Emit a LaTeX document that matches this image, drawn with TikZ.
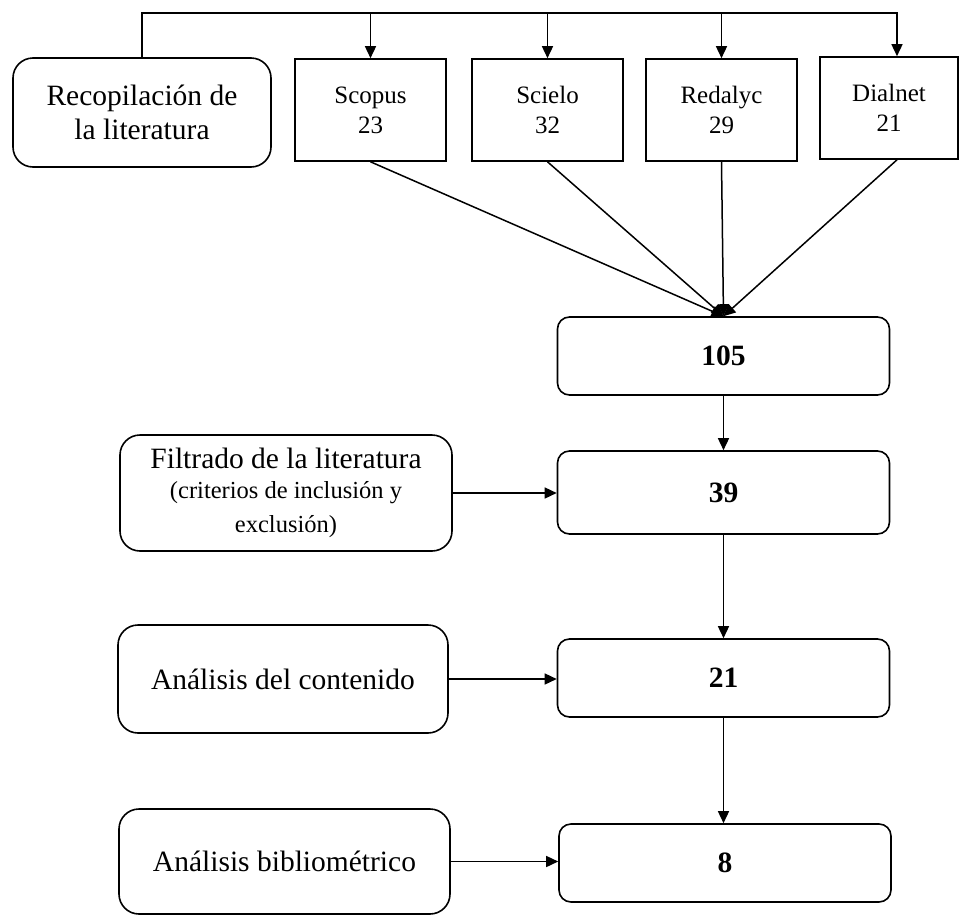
\documentclass[tikz,border=0pt]{standalone}
\usepackage{fontspec}
\setmainfont{Liberation Serif}
\usetikzlibrary{arrows.meta}
\tikzset{
  stage/.style={draw, line width=1.6pt, rounded corners=20pt, align=center,
    inner sep=0pt, minimum width=330pt, minimum height=108pt,
    font=\fontsize{29.5}{34}\selectfont},
  source/.style={draw, line width=1.6pt, align=center, inner sep=0pt,
    minimum width=151pt, minimum height=102pt,
    font=\fontsize{25}{30}\selectfont},
  count/.style={draw, line width=1.6pt, rounded corners=12pt, inner sep=0pt,
    minimum width=332pt, minimum height=78pt,
    font=\fontsize{29.5}{34}\selectfont\bfseries},
  flow/.style={line width=1.5pt, -{Triangle[length=12pt, width=11pt]}}
}
\newcommand{\smallline}{\fontsize{24.5}{31}\selectfont}

\begin{document}
\begin{tikzpicture}[x=1pt, y=-1pt]
  \useasboundingbox (0,0) rectangle (959,916);

  % Collection and the four databases
  \node[stage, minimum width=258pt, minimum height=109pt] (recop) at (142,112.5)
    {Recopilación de\\la literatura};
  \node[source] (scopus) at (370.5,110) {Scopus\\23};
  \node[source] (scielo) at (547.5,110) {Scielo\\32};
  \node[source] (redalyc) at (721.5,110) {Redalyc\\29};
  \node[source, minimum width=138pt] (dialnet) at (889,108) {Dialnet\\21};
  \coordinate (bus) at (0,13);

  % Counts
  \node[count] (n105) at (723.5,356) {105};
  \node[count, minimum height=83pt] (n39) at (723.5,492.5) {39};
  \node[count] (n21) at (723.5,678) {21};
  \node[count] (n8) at (725,863) {8};

  % Stages on the left
  \node[stage, minimum width=332pt, minimum height=116pt] (filtrado) at (286,493)
    {Filtrado de la literatura\\[-4pt]
     \smallline (criterios de inclusión y\\\smallline exclusión)};
  \node[stage] (contenido) at (283,679) {Análisis del contenido};
  \node[stage, minimum width=331pt, minimum height=105pt] (biblio) at (284.5,861.5)
    {Análisis bibliométrico};

  % Bus over the databases
  \draw[flow] (recop.north) |- ([xshift=8pt]dialnet.north |- bus)
    -- ([xshift=8pt]dialnet.north);
  \draw[flow] (scopus.north |- bus) -- (scopus.north);
  \draw[flow] (scielo.north |- bus) -- (scielo.north);
  \draw[flow] (redalyc.north |- bus) -- (redalyc.north);

  % Databases into the total
  \draw[flow] (scopus.south) -- (n105.north);
  \draw[flow] (scielo.south) -- (n105.north);
  \draw[flow] (redalyc.south) -- (n105.north);
  \draw[flow] ([xshift=8pt]dialnet.south) -- (n105.north);

  % Down the chain
  \draw[flow] (n105.south) -- (n39.north);
  \draw[flow] (n39.south) -- (n21.north);
  \draw[flow] (n21.south) -- (n21.south |- n8.north);

  % Stages into the counts
  \draw[flow] (filtrado.east) -- (filtrado.east -| n39.west);
  \draw[flow] (contenido.east) -- (contenido.east -| n21.west);
  \draw[flow] (biblio.east) -- (biblio.east -| n8.west);
\end{tikzpicture}
\end{document}
